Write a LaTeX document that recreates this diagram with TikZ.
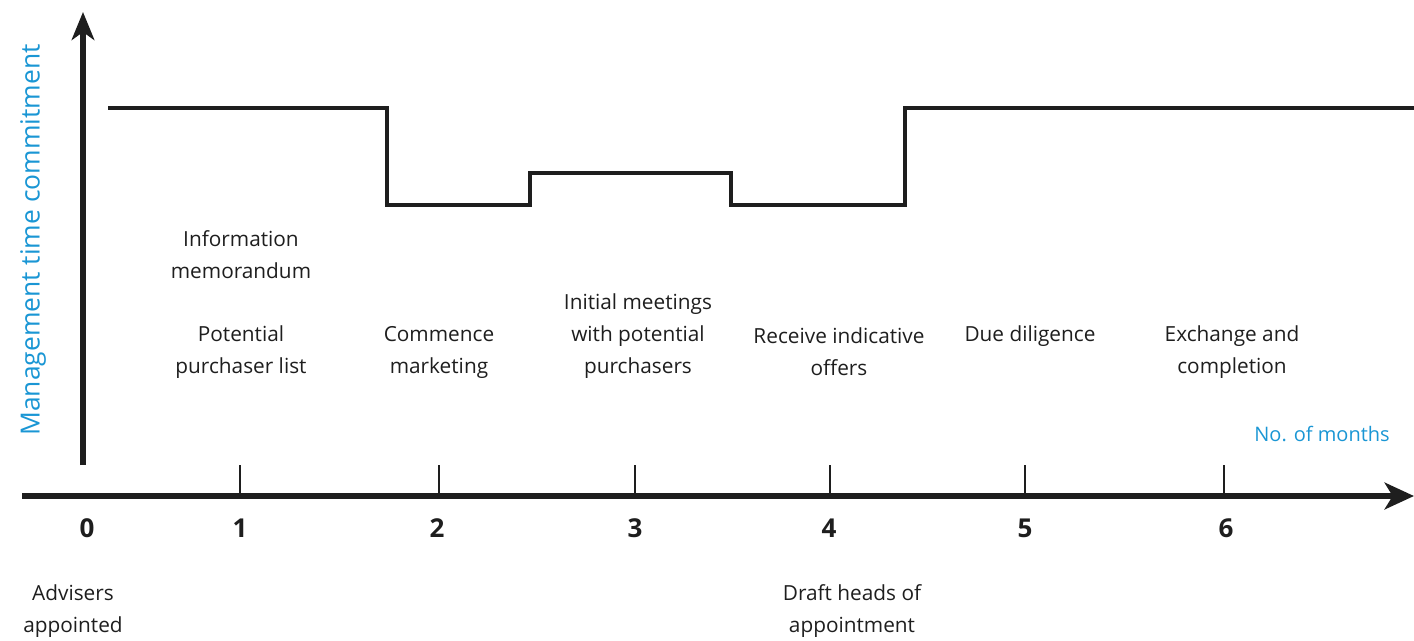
\documentclass[tikz,border=0pt]{standalone}
\usepackage{fontspec}
\setmainfont{Open Sans}
\usetikzlibrary{arrows.meta}
\definecolor{axisblue}{RGB}{26,150,212}
\definecolor{ink}{RGB}{30,30,30}
\tikzset{
  lbl/.style={align=center, text=ink, font=\fontsize{15.6}{24}\selectfont, inner sep=0pt},
  num/.style={text=ink, font=\fontsize{19.5}{22}\selectfont\bfseries, inner sep=0pt},
  bluelbl/.style={text=axisblue, font=\fontsize{15}{18}\selectfont, inner sep=0pt},
  tick/.style={draw=ink, line width=1.9pt},
  axis/.style={draw=ink, -{Stealth[length=21pt,width=17pt,inset=6pt]}},
  stepline/.style={draw=ink, line width=2.3pt, line join=miter}
}
\begin{document}
\begin{tikzpicture}[x=0.75pt,y=-0.75pt]
\useasboundingbox (0,0) rectangle (1414,640);
% axes
\coordinate (yb) at (83,465);
\coordinate (yt) at (83,12);
\coordinate (xl) at (22,496);
\coordinate (xr) at (1414,496);
\draw[axis, line width=3.8pt] (yb) -- (yt);
\draw[axis, line width=5.2pt, -{Stealth[length=22pt,width=20pt,inset=6pt]}] (xl) -- (xr);
% ticks
\foreach \i/\x in {1/240,2/439,3/635,4/830,5/1025,6/1224}{
  \coordinate (t\i a) at (\x,465);
  \coordinate (t\i b) at (\x,493);
  \draw[tick] (t\i a) -- (t\i b);
}
% numbers
\node[num] (n0) at (87,528) {0};
\node[num] (n1) at (240,528) {1};
\node[num] (n2) at (437,528) {2};
\node[num] (n3) at (635,528) {3};
\node[num] (n4) at (829,528) {4};
\node[num] (n5) at (1025,528) {5};
\node[num] (n6) at (1226,528) {6};
% step line
\coordinate (s0) at (108,108);
\coordinate (s1) at (387,108);
\coordinate (s2) at (387,205);
\coordinate (s3) at (530,205);
\coordinate (s4) at (530,173);
\coordinate (s5) at (731,173);
\coordinate (s6) at (731,205);
\coordinate (s7) at (905,205);
\coordinate (s8) at (905,108);
\coordinate (s9) at (1414,108);
\draw[stepline] (s0) -- (s1) -- (s2) -- (s3) -- (s4) -- (s5) -- (s6) -- (s7) -- (s8) -- (s9);
% labels
\node[bluelbl, rotate=90, font=\fontsize{19.8}{22}\selectfont] (ylab) at (33,240) {Management time commitment};
\node[bluelbl] (xlab) at (1322,434) {No. of months};
\node[lbl] (info) at (241,255) {Information\\memorandum};
\node[lbl] (pot) at (241,352) {Potential\\purchaser list};
\node[lbl] (comm) at (439,352) {Commence\\marketing};
\node[lbl] (init) at (638,336) {Initial meetings\\with potential\\purchasers};
\node[lbl] (recv) at (839,352) {Receive indicative\\offers};
\node[lbl] (due) at (1030,336) {Due diligence};
\node[lbl] (exch) at (1232,352) {Exchange and\\completion};
\node[lbl] (adv) at (73,611) {Advisers\\appointed};
\node[lbl] (draft) at (852,611) {Draft heads of\\appointment};
\end{tikzpicture}
\end{document}
